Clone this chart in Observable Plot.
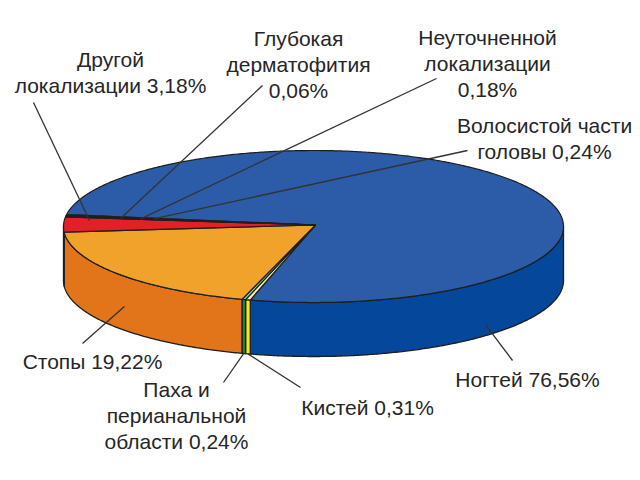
<!DOCTYPE html>
<html>
<head>
<meta charset="utf-8">
<script src="https://cdn.jsdelivr.net/npm/d3@7"></script>
<script src="https://cdn.jsdelivr.net/npm/@observablehq/plot@0.6"></script>
<style>
  html, body { margin: 0; padding: 0; background: #ffffff; }
  #chart svg { display: block; }
</style>
</head>
<body>
<div id="chart"></div>
<script>
// ---- data (clockwise order, starting at the top-left edge of "Ногтей") ----
const categories = [
  "Ногтей",
  "Кистей",
  "Паха и\nперианальной\nобласти",
  "Стопы",
  "Другой\nлокализации",
  "Глубокая\nдерматофития",
  "Неуточненной\nлокализации",
  "Волосистой части\nголовы"
];
const values = [76.56, 0.31, 0.24, 19.22, 3.18, 0.06, 0.18, 0.24];
// separator between name and value in the label
const valueSeparators = [" ", " ", " ", " ", " ", "\n", "\n", " "];

// ---- styles ----
const topColors  = ["#2c5ba8", "#f1efb4", "#86c98a", "#f0a22a", "#e41f26", "#5a5a5a", "#6ea8b0", "#8c5c98"];
const sideColors = ["#04479b", "#f7e71c", "#1b8a3c", "#e2741a", "#b8181f", "#3a3a3a", "#4d8890", "#6a4378"];

// ---- layout ----
const G = {cx: 313, cy: 226, rx: 250, ry: 76, depth: 54, apexX: 315, apexY: 224.5, start: 189};
// label block centre (x, y), leader end near label (lx, ly),
// anchor on the slice: f = fraction along slice, r = radius on top face OR side = depth fraction
const labelLayout = [
  {x: 527, y: 378, lx: 512, ly: 360, f: 0.789, side: 0.8},
  {x: 367, y: 406, lx: 300, ly: 387, f: 0.5, side: 1.0},
  {x: 176, y: 414, lx: 223, ly: 382, f: 0.5, side: 1.0},
  {x: 92,  y: 360, lx: 82,  ly: 343, f: 0.47, side: 0.56},
  {x: 110, y: 71,  lx: 33,  ly: 102, f: 0.8, r: 0.9},
  {x: 298, y: 63,  lx: 262, ly: 85,  f: 0.5, r: 0.78},
  {x: 487, y: 62,  lx: 436, ly: 78,  f: 0.5, r: 0.7},
  {x: 544, y: 137, lx: 467, ly: 150, f: 0.5, r: 0.646}
];

const fmt = v => v.toFixed(2).replace(".", ",") + "%";
const rad = t => t * Math.PI / 180;
const rim = (t, d = 0) => [G.cx + G.rx * Math.cos(rad(t)), G.cy + G.ry * Math.sin(rad(t)) + d * G.depth];

const arcs = d3.pie().sort(null).value(d => d)(values);
const slices = arcs.map((a, i) => ({
  i,
  t0: G.start + a.startAngle * 180 / Math.PI,
  t1: G.start + a.endAngle * 180 / Math.PI
}));

// top faces
const tops = [];
slices.forEach(s => {
  tops.push({id: "top" + s.i, x: G.apexX, y: G.apexY, fill: topColors[s.i]});
  const n = Math.max(2, Math.ceil((s.t1 - s.t0) / 0.5));
  for (let k = 0; k <= n; k++) {
    const [x, y] = rim(s.t0 + (s.t1 - s.t0) * k / n);
    tops.push({id: "top" + s.i, x, y, fill: topColors[s.i]});
  }
});

// visible outer side walls (front half only)
const sides = [];
slices.forEach(s => {
  for (let k = 0; k < 2; k++) {
    const lo = Math.max(s.t0, 360 * k), hi = Math.min(s.t1, 360 * k + 180);
    if (hi - lo <= 0.01) continue;
    const id = "side" + s.i + "_" + k;
    const n = Math.max(2, Math.ceil((hi - lo) / 0.5));
    for (let j = 0; j <= n; j++) {
      const [x, y] = rim(lo + (hi - lo) * j / n, 0);
      sides.push({id, x, y, fill: sideColors[s.i]});
    }
    for (let j = n; j >= 0; j--) {
      const [x, y] = rim(lo + (hi - lo) * j / n, 1);
      sides.push({id, x, y, fill: sideColors[s.i]});
    }
  }
});

// labels and leaders
const labelData = slices.map(s => ({
  x: labelLayout[s.i].x,
  y: labelLayout[s.i].y,
  text: categories[s.i] + valueSeparators[s.i] + fmt(values[s.i])
}));
const leaders = slices.map(s => {
  const L = labelLayout[s.i];
  const t = s.t0 + (s.t1 - s.t0) * L.f;
  let ax, ay;
  if (L.side !== undefined) {
    [ax, ay] = rim(t, L.side);
  } else {
    const [rx, ry] = rim(t);
    ax = G.apexX + (rx - G.apexX) * L.r;
    ay = G.apexY + (ry - G.apexY) * L.r;
  }
  return {x1: L.lx, y1: L.ly, x2: ax, y2: ay};
});

const chart = Plot.plot({
  width: 640,
  height: 480,
  margin: 0,
  style: {background: "#ffffff"},
  x: {domain: [0, 640], range: [0, 640], axis: null},
  y: {domain: [0, 480], range: [0, 480], axis: null},
  color: {type: "identity"},
  marks: [
    Plot.line(sides, {x: "x", y: "y", z: "id", fill: "fill", stroke: "#1e1e1e", strokeWidth: 1.3, strokeLinejoin: "round", curve: "linear-closed"}),
    Plot.line(tops, {x: "x", y: "y", z: "id", fill: "fill", stroke: "#1e1e1e", strokeWidth: 1.2, strokeLinejoin: "round", curve: "linear-closed"}),
    Plot.link(leaders, {x1: "x1", y1: "y1", x2: "x2", y2: "y2", stroke: "#333333", strokeWidth: 1.3}),
    Plot.text(labelData, {
      x: "x", y: "y", text: "text",
      fontSize: 21, lineHeight: 1.24, fill: "#262626",
      fontFamily: "'Liberation Sans', Arial, sans-serif",
      textAnchor: "middle"
    })
  ]
});
document.getElementById("chart").appendChild(chart);
</script>
</body>
</html>
